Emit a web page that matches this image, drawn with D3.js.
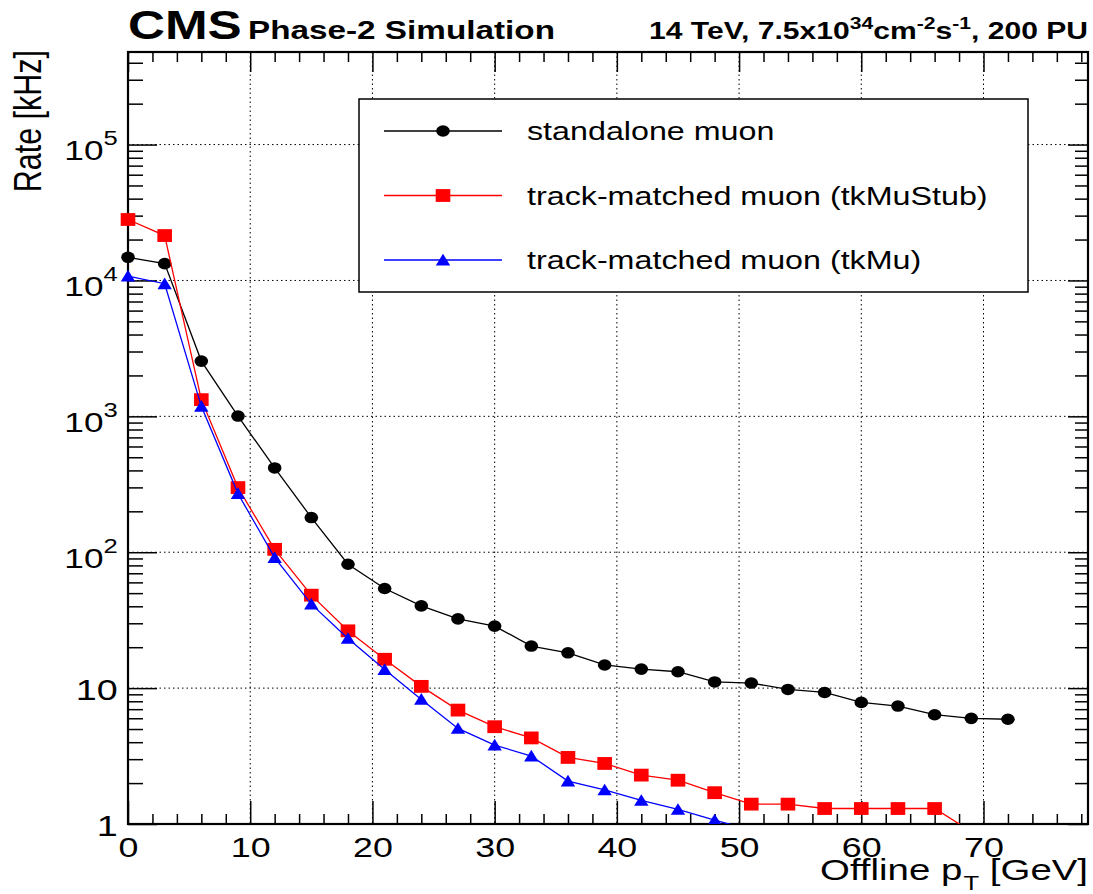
<!DOCTYPE html>
<html>
<head>
<meta charset="utf-8">
<script src="https://cdn.jsdelivr.net/npm/d3@7"></script>
<style>
  body { margin: 0; background: #fff; }
  text { font-family: "Liberation Sans", Arial, Helvetica, sans-serif; fill: #000; }
</style>
</head>
<body>
<svg id="chart" width="1093" height="894"></svg>
<script>
// offline pT thresholds (GeV) and rates (kHz)
var ptStandalone = [0, 3, 6, 9, 12, 15, 18, 21, 24, 27, 30, 33, 36, 39, 42, 45, 48, 51, 54, 57, 60, 63, 66, 69, 72]
var rateStandalone = [14800, 13300, 2550, 1005, 417, 180, 81.6, 54.1, 40.3, 32.3, 28.6, 20.4, 18.2, 14.8, 13.8, 13.2, 11.1, 10.9, 9.78, 9.29, 7.85, 7.38, 6.37, 5.99, 5.9]

var ptTkMuStub = [0, 3, 6, 9, 12, 15, 18, 21, 24, 27, 30, 33, 36, 39, 42, 45, 48, 51, 54, 57, 60, 63, 66, 69]
var rateTkMuStub = [28100, 21400, 1327, 299, 105, 48.3, 26.4, 16.3, 10.3, 6.89, 5.2, 4.3, 3.09, 2.79, 2.29, 2.1, 1.7, 1.4, 1.4, 1.3, 1.3, 1.3, 1.3, 0.88]

var ptTkMu = [0, 3, 6, 9, 12, 15, 18, 21, 24, 27, 30, 33, 36, 39, 42, 45, 48, 51]
var rateTkMu = [10760, 9460, 1185, 270, 91.4, 41.5, 23.2, 13.7, 8.26, 5.05, 3.81, 3.16, 2.07, 1.78, 1.49, 1.28, 1.07, 0.9]

var seriesNames = ['standalone muon', 'track-matched muon (tkMuStub)', 'track-matched muon (tkMu)']
var seriesColors = ['#000000', '#ff0000', '#0000ff']
var seriesMarkers = ['circle', 'square', 'triangle']

var xTicks = [0, 10, 20, 30, 40, 50, 60, 70]
var yTicks = [1, 10, 100, 1000, 10000, 100000]

var svg = d3.select('#chart')
var SX = 1.28 // the picture is stretched sideways, text too

var fLeft = 128, fRight = 1088, fTop = 52, fBottom = 824

var x = d3.scaleLinear().domain([0, 78.55]).range([fLeft, fRight])
var y = d3.scaleLog().domain([1, 4.8e5]).range([fBottom, fTop])

var xMinor = d3.range(0, 78.55, 2).filter(function (d) { return d % 10 !== 0 })
var yMinor = []
yTicks.forEach(function (p) {
  for (var k = 2; k <= 9; k++) if (p * k < 4.8e5) yMinor.push(p * k)
})

// grid
var grid = svg.append('g').attr('stroke', '#000').attr('stroke-width', 1).attr('stroke-dasharray', '1.5,3')
grid.selectAll('.gx').data(xTicks.slice(1)).enter().append('line')
  .attr('x1', function (d) { return x(d) }).attr('x2', function (d) { return x(d) })
  .attr('y1', fTop).attr('y2', fBottom)
grid.selectAll('.gy').data(yTicks.slice(1)).enter().append('line')
  .attr('y1', function (d) { return y(d) }).attr('y2', function (d) { return y(d) })
  .attr('x1', fLeft).attr('x2', fRight)

// axes, ticks on the inside like ROOT
function ticks (axis, tr) {
  var g = svg.append('g').attr('transform', tr).call(axis)
  g.select('.domain').remove()
  g.selectAll('.tick line').attr('stroke', '#000').attr('stroke-width', 1.5)
  return g
}
var xb = ticks(d3.axisBottom(x).tickValues(xTicks).tickSizeInner(-23).tickSizeOuter(0).tickPadding(13), 'translate(0,' + fBottom + ')')
ticks(d3.axisBottom(x).tickValues(xMinor).tickSizeInner(-10).tickSizeOuter(0).tickFormat(''), 'translate(0,' + fBottom + ')')
ticks(d3.axisTop(x).tickValues(xTicks).tickSizeInner(-20).tickSizeOuter(0).tickFormat(''), 'translate(0,' + fTop + ')')
ticks(d3.axisTop(x).tickValues(xMinor).tickSizeInner(-10).tickSizeOuter(0).tickFormat(''), 'translate(0,' + fTop + ')')
var yl = ticks(d3.axisLeft(y).tickValues(yTicks).tickSizeInner(-29).tickSizeOuter(0).tickPadding(8), 'translate(' + fLeft + ',0)')
ticks(d3.axisLeft(y).tickValues(yMinor).tickSizeInner(-15).tickSizeOuter(0).tickFormat(''), 'translate(' + fLeft + ',0)')
ticks(d3.axisRight(y).tickValues(yTicks).tickSizeInner(-20).tickSizeOuter(0).tickFormat(''), 'translate(' + fRight + ',0)')
ticks(d3.axisRight(y).tickValues(yMinor).tickSizeInner(-13).tickSizeOuter(0).tickFormat(''), 'translate(' + fRight + ',0)')

xb.selectAll('.tick text')
  .attr('font-size', 28).attr('font-family', null)
  .attr('transform', 'scale(' + SX + ',1)')

yl.selectAll('.tick text').each(function (d) {
  var t = d3.select(this).text('').attr('font-family', null).attr('dy', null)
    .attr('transform', 'scale(' + SX + ',1)')
  if (d < 100) {
    t.attr('font-size', 29.5).attr('y', 11).text(d)
  } else {
    var p = Math.round(Math.log10(d))
    t.attr('font-size', 27.5).attr('y', 15)
    t.append('tspan').text('10')
    t.append('tspan').attr('font-size', 20).attr('dy', -15).text(p)
  }
})

// frame
svg.append('rect').attr('x', fLeft).attr('y', fTop).attr('width', fRight - fLeft).attr('height', fBottom - fTop)
  .attr('fill', 'none').attr('stroke', '#000').attr('stroke-width', 2.2)

// series
var series = [
  { pt: ptStandalone, rate: rateStandalone },
  { pt: ptTkMuStub, rate: rateTkMuStub },
  { pt: ptTkMu, rate: rateTkMu }
]

svg.append('clipPath').attr('id', 'frameClip').append('rect')
  .attr('x', fLeft - 8).attr('y', fTop).attr('width', fRight - fLeft + 8).attr('height', fBottom - fTop)

function marker (sel, kind, color) {
  if (kind === 'circle') {
    sel.append('ellipse').attr('rx', 6.8).attr('ry', 5.8).attr('fill', color)
  } else if (kind === 'square') {
    sel.append('rect').attr('x', -7.3).attr('y', -6.4).attr('width', 14.6).attr('height', 12.8).attr('fill', color)
  } else {
    sel.append('path').attr('d', 'M0,-6.3L7.2,5.4L-7.2,5.4Z').attr('fill', color)
  }
}

var line = d3.line()
  .x(function (d) { return x(d[0]) })
  .y(function (d) { return y(d[1]) })

var plot = svg.append('g').attr('clip-path', 'url(#frameClip)')
series.forEach(function (s, i) {
  var pts = d3.zip(s.pt, s.rate)
  plot.append('path').datum(pts).attr('d', line)
    .attr('fill', 'none').attr('stroke', seriesColors[i]).attr('stroke-width', 1.3)
  plot.selectAll('.m' + i).data(pts.filter(function (d) { return d[1] >= 1 })).enter().append('g')
    .attr('transform', function (d) { return 'translate(' + x(d[0]) + ',' + y(d[1]) + ')' })
    .each(function () { marker(d3.select(this), seriesMarkers[i], seriesColors[i]) })
})

// legend
var leg = svg.append('g')
leg.append('rect').attr('x', 359).attr('y', 99).attr('width', 669).attr('height', 193)
  .attr('fill', '#fff').attr('stroke', '#000').attr('stroke-width', 1.5)
var legRow = d3.scalePoint().domain(seriesNames).range([131, 260])
seriesNames.forEach(function (name, i) {
  var ry = legRow(name)
  leg.append('line').attr('x1', 384).attr('x2', 502).attr('y1', ry).attr('y2', ry)
    .attr('stroke', seriesColors[i]).attr('stroke-width', 1.3)
  marker(leg.append('g').attr('transform', 'translate(443,' + ry + ')'), seriesMarkers[i], seriesColors[i])
  leg.append('text').attr('transform', 'translate(527,' + (ry + 9) + ') scale(' + SX + ',1)')
    .attr('font-size', 25.2).text(name)
})

// titles
svg.append('text').attr('transform', 'translate(128,39) scale(' + SX + ',1)')
  .attr('font-size', 40).attr('font-weight', 'bold').text('CMS')
svg.append('text').attr('transform', 'translate(248,39) scale(' + SX + ',1)')
  .attr('font-size', 26).attr('font-weight', 'bold').text('Phase-2 Simulation')

var rt = svg.append('text').attr('transform', 'translate(1088,39) scale(' + SX + ',1)')
  .attr('text-anchor', 'end').attr('font-size', 23.5).attr('font-weight', 'bold')
rt.append('tspan').text('14 TeV, 7.5x10')
rt.append('tspan').attr('font-size', 16.5).attr('dy', -10).text('34')
rt.append('tspan').attr('dy', 10).text('cm')
rt.append('tspan').attr('font-size', 16.5).attr('dy', -10).text('-2')
rt.append('tspan').attr('dy', 10).text('s')
rt.append('tspan').attr('font-size', 16.5).attr('dy', -10).text('-1')
rt.append('tspan').attr('dy', 10).text(', 200 PU')

svg.append('text').attr('transform', 'translate(41,50) rotate(-90) scale(1,' + SX + ')')
  .attr('text-anchor', 'end').attr('font-size', 30.5).text('Rate [kHz]')

var xt = svg.append('text').attr('transform', 'translate(1088,880) scale(' + SX + ',1)')
  .attr('text-anchor', 'end').attr('font-size', 30)
xt.append('tspan').text('Offline p')
xt.append('tspan').attr('font-size', 20).attr('dy', 10).attr('dx', 1).text('T')
xt.append('tspan').attr('dy', -10).text(' [GeV]')
</script>
</body>
</html>
